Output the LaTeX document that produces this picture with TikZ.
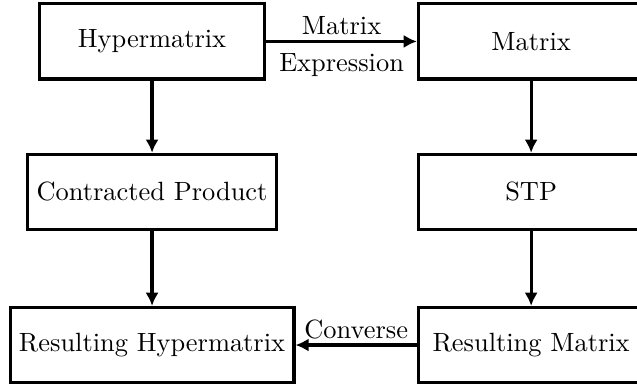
\documentclass[tikz,border=0pt]{standalone}
\usetikzlibrary{arrows.meta}
\begin{document}
\begin{tikzpicture}[
  box/.style={draw, very thick, minimum width=3cm, minimum height=1cm, inner sep=3.33pt},
  conn/.style={very thick, -{Latex[length=5pt,width=5pt]}}
]
\useasboundingbox (-57.6pt,15.7pt) rectangle (183.7pt,-131.3pt);
\node[box] (hm) at (0pt,0pt) {Hypermatrix};
\node[box] (m) at (143.6pt,0pt) {Matrix};
\node[box] (cp) at (0pt,-57pt) {Contracted Product};
\node[box] (stp) at (143.6pt,-57pt) {STP};
\node[box] (rh) at (0pt,-115pt) {Resulting Hypermatrix};
\node[box] (rm) at (143.6pt,-115pt) {Resulting Matrix};
\draw[conn] (hm.east) -- node[above, inner sep=2pt] (l1) {Matrix} node[below, inner sep=4pt] (l2) {Expression} (m.west);
\draw[conn] (hm) -- (cp);
\draw[conn] (cp) -- (rh);
\draw[conn] (m) -- (stp);
\draw[conn] (stp) -- (rm);
\draw[conn] (rm.west) -- node[above, inner sep=1.5pt] (l3) {Converse} (rh.east);
\end{tikzpicture}
\end{document}
